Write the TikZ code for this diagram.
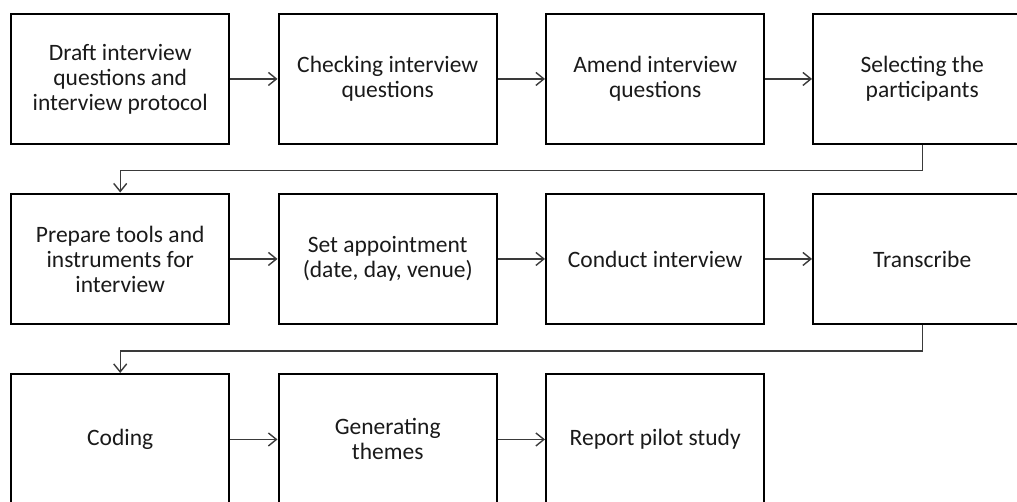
\documentclass[tikz,border=0pt]{standalone}
\usepackage{fontspec}
\setmainfont{Carlito}
\usetikzlibrary{arrows.meta}
\definecolor{txt}{HTML}{1A1A1A}
\definecolor{conn}{HTML}{3A3A3A}
\tikzset{
  stepbox/.style={draw=black, line width=2.4pt, minimum width=218pt, minimum height=130.5pt,
    inner sep=0pt, align=center, text=txt, font=\fontsize{23.5}{25}\selectfont, anchor=north west},
  flow/.style={draw=conn, line width=1.4pt, -{Straight Barb[length=8pt,width=13pt,line width=1.4pt]}}
}
\begin{document}
\begin{tikzpicture}[x=1pt,y=-1pt]
\useasboundingbox (0,0) rectangle (1017,501);
\clip (0,0) rectangle (1017,501);
% row 1
\node[stepbox] (a1) at (10,12.5) {Draft interview\\questions and\\interview protocol};
\node[stepbox] (a2) at (277.5,12.5) {Checking interview\\questions};
\node[stepbox] (a3) at (545,12.5) {Amend interview\\questions};
\node[stepbox] (a4) at (812,12.5) {Selecting the\\participants};
% row 2
\node[stepbox] (b1) at (10,192.5) {Prepare tools and\\instruments for\\interview};
\node[stepbox] (b2) at (277.5,192.5) {Set appointment\\(date, day, venue)};
\node[stepbox] (b3) at (545,192.5) {Conduct interview};
\node[stepbox] (b4) at (812,192.5) {Transcribe};
% row 3
\node[stepbox] (c1) at (10,373) {Coding};
\node[stepbox] (c2) at (277.5,373) {Generating\\themes};
\node[stepbox] (c3) at (545,373) {Report pilot study};
% horizontal connectors
\draw[flow] (a1.east) -- (a2.west);
\draw[flow] (a2.east) -- (a3.west);
\draw[flow] (a3.east) -- (a4.west);
\draw[flow] (b1.east) -- (b2.west);
\draw[flow] (b2.east) -- (b3.west);
\draw[flow] (b3.east) -- (b4.west);
\draw[flow] (c1.east) -- (c2.west);
\draw[flow] (c2.east) -- (c3.west);
% row change connectors
\draw[flow] (a4.south) -- ++(0,25) -| (b1.north);
\draw[flow] (b4.south) -- ++(0,25.5) -| (c1.north);
\end{tikzpicture}
\end{document}
